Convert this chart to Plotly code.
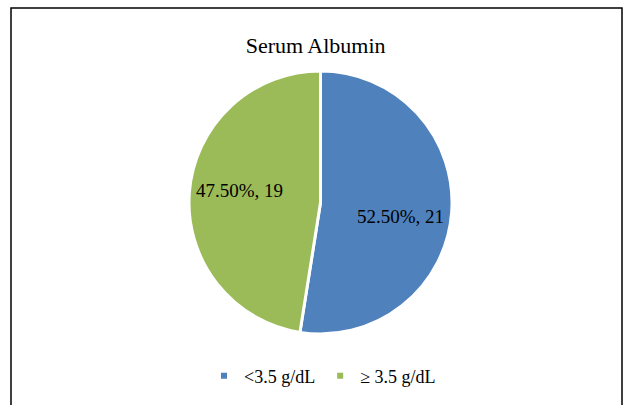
import plotly.graph_objects as go

# Serum albumin distribution
categories = ["<3.5 g/dL", "\u2265 3.5 g/dL"]
counts = [21, 19]
colors = ["#4F81BD", "#9BBB59"]

W, H = 625, 405
font_family = "Liberation Serif, Times New Roman, serif"

fig = go.Figure()

fig.add_trace(go.Pie(
    labels=categories,
    values=counts,
    sort=False,
    direction="clockwise",
    rotation=0,
    marker=dict(colors=colors, line=dict(color="white", width=3)),
    textinfo="none",
    hoverinfo="label+value+percent",
    showlegend=False,
    domain=dict(x=[189 / W, 452 / W], y=[1 - 334 / H, 1 - 71 / H]),
))

# Data labels: "percent, count" placed inside each slice
total = sum(counts)
label_pos = [(401 / W, 1 - 216 / H), (239 / W, 1 - 190 / H)]
for v, (lx, ly) in zip(counts, label_pos):
    fig.add_annotation(
        x=lx, y=ly, xref="paper", yref="paper", showarrow=False,
        text=f"{100 * v / total:.2f}%, {v}",
        font=dict(family=font_family, size=19, color="black"),
    )

# Legend entries with small square swatches
for name, col in zip(categories, colors):
    fig.add_trace(go.Scatter(
        x=[None], y=[None], mode="markers", name=name,
        marker=dict(symbol="square", size=6, color=col),
        showlegend=True,
    ))

fig.update_layout(
    width=W, height=H,
    margin=dict(l=0, r=0, t=0, b=0),
    paper_bgcolor="white",
    plot_bgcolor="white",
    font=dict(family=font_family, color="black"),
    title=dict(text="Serum Albumin", x=0.505, xanchor="center",
               y=1 - 45 / H, yanchor="middle",
               font=dict(family=font_family, size=22, color="black")),
    xaxis=dict(visible=False),
    yaxis=dict(visible=False),
    legend=dict(orientation="h", x=0.516, xanchor="center",
                y=1 - 376 / H, yanchor="middle",
                font=dict(family=font_family, size=18, color="black"),
                itemwidth=30, tracegroupgap=0),
    shapes=[dict(type="rect", xref="paper", yref="paper",
                 x0=11 / W, x1=622 / W, y0=-0.02, y1=1 - 8 / H,
                 line=dict(color="black", width=1.5), fillcolor="rgba(0,0,0,0)",
                 layer="below")],
)

fig.write_html("out.html")
